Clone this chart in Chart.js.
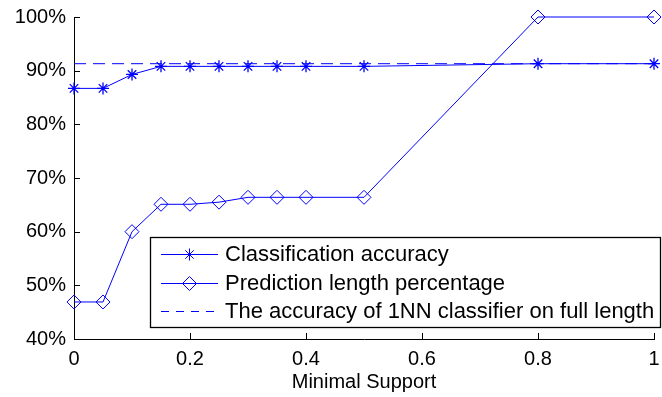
<!DOCTYPE html>
<html>
<head>
<meta charset="utf-8">
<script src="https://cdn.jsdelivr.net/npm/chart.js@4.4.1/dist/chart.umd.min.js"></script>
<style>
  html, body { margin: 0; padding: 0; background: #fff; }
  #wrap { width: 662px; height: 397px; }
</style>
</head>
<body>
<div id="wrap"><canvas id="supportChart" width="662" height="397"></canvas></div>
<script>
// minimal support thresholds and the measured results (percent)
var support = [0, 0.05, 0.1, 0.15, 0.2, 0.25, 0.3, 0.35, 0.4, 0.5, 0.8, 1];
var accuracy = [86.7, 86.7, 89.3, 90.8, 90.8, 90.8, 90.8, 90.8, 90.8, 90.8, 91.3, 91.3];
var predLength = [46.9, 46.9, 60.0, 65.1, 65.1, 65.5, 66.4, 66.4, 66.4, 66.4, 100, 100];
var fullLengthAcc = 91.3;
var fullLengthX = [0, 1];

var xTicks = [0, 0.2, 0.4, 0.6, 0.8, 1];
var yTicks = [40, 50, 60, 70, 80, 90, 100];

var legendLabels = [
  'Classification accuracy',
  'Prediction length percentage',
  'The accuracy of 1NN classifier on full length'
];

var blue = 'rgb(0,0,255)';
var fontFamily = '"Liberation Sans", Arial, Helvetica, sans-serif';

function pairs(xs, ys) {
  return xs.map(function(x, i) { return { x: x, y: ys[i] }; });
}

// inward tick marks, like the original plotting tool draws them
var inwardTicks = {
  id: 'inwardTicks',
  afterDraw: function(chart) {
    var ctx = chart.ctx, area = chart.chartArea;
    var xs = chart.scales.x, ys = chart.scales.y;
    ctx.save();
    ctx.strokeStyle = '#000';
    ctx.lineWidth = 1;
    ctx.beginPath();
    xTicks.forEach(function(v) {
      var px = Math.round(xs.getPixelForValue(v)) + 0.5;
      ctx.moveTo(px, area.bottom);
      ctx.lineTo(px, area.bottom - 6);
    });
    yTicks.forEach(function(v) {
      var py = Math.round(ys.getPixelForValue(v)) + 0.5;
      ctx.moveTo(area.left, py);
      ctx.lineTo(area.left + 6, py);
    });
    ctx.stroke();
    ctx.restore();
  }
};

// boxed legend sitting inside the plot area
var boxLegend = {
  id: 'boxLegend',
  afterDraw: function(chart) {
    var ctx = chart.ctx;
    var left = 150.5, top = 237.5, right = 660.5, bottom = 327.5;
    var rows = [254, 283, 311];
    ctx.save();
    ctx.fillStyle = '#fff';
    ctx.fillRect(left, top, right - left, bottom - top);
    ctx.strokeStyle = '#000';
    ctx.lineWidth = 1.3;
    ctx.strokeRect(left, top, right - left, bottom - top);

    chart.data.datasets.forEach(function(ds, i) {
      var y = rows[i] + 0.5;
      ctx.strokeStyle = ds.borderColor;
      ctx.lineWidth = 1;
      ctx.setLineDash(ds.legendDash || []);
      ctx.beginPath();
      ctx.moveTo(161, y);
      ctx.lineTo(218, y);
      ctx.stroke();
      ctx.setLineDash([]);
      if (ds.pointRadius > 0) {
        ctx.strokeStyle = ds.pointBorderColor;
        ctx.fillStyle = ds.pointBackgroundColor;
        Chart.helpers.drawPoint(ctx, {
          pointStyle: ds.pointStyle,
          radius: ds.pointRadius,
          borderWidth: ds.pointBorderWidth
        }, 189.5, y);
      }
      ctx.fillStyle = '#000';
      ctx.font = '22px ' + fontFamily;
      ctx.textBaseline = 'middle';
      ctx.textAlign = 'left';
      ctx.fillText(legendLabels[i], 225, rows[i] + 1);
    });
    ctx.restore();
  }
};

var ctx = document.getElementById('supportChart').getContext('2d');
var supportChart = new Chart(ctx, {
  type: 'line',
  data: {
    datasets: [{
      label: legendLabels[0],
      data: pairs(support, accuracy),
      borderColor: blue,
      borderWidth: 1,
      pointStyle: 'star',
      pointRadius: 6,
      pointBorderColor: blue,
      pointBorderWidth: 1.3,
      pointBackgroundColor: blue,
      tension: 0,
      clip: false
    }, {
      label: legendLabels[1],
      data: pairs(support, predLength),
      borderColor: blue,
      borderWidth: 1,
      pointStyle: 'rectRot',
      pointRadius: 7,
      pointBorderColor: blue,
      pointBorderWidth: 1,
      pointBackgroundColor: 'rgba(0,0,0,0)',
      tension: 0,
      clip: false
    }, {
      label: legendLabels[2],
      data: pairs(fullLengthX, [fullLengthAcc, fullLengthAcc]),
      borderColor: blue,
      borderWidth: 1,
      borderDash: [12, 7],
      legendDash: [8, 7],
      pointRadius: 0,
      tension: 0
    }]
  },
  options: {
    responsive: false,
    animation: false,
    layout: { padding: { top: 17, right: 1, left: 0, bottom: 0 } },
    plugins: {
      legend: { display: false },
      tooltip: { enabled: false }
    },
    scales: {
      x: {
        type: 'linear',
        min: 0,
        max: 1,
        afterBuildTicks: function(scale) {
          scale.ticks = xTicks.map(function(v) { return { value: v }; });
        },
        afterFit: function(scale) {
          scale.height = 58;
          scale.paddingLeft = 0;
          scale.paddingRight = 0;
        },
        grid: { display: true, drawOnChartArea: false, drawTicks: false },
        border: { display: true, color: '#000', width: 1 },
        ticks: {
          color: '#000',
          padding: 8,
          maxRotation: 0,
          autoSkip: false,
          font: { family: fontFamily, size: 20 },
          callback: function(v) { return String(v); }
        },
        title: {
          display: true,
          text: 'Minimal Support',
          color: '#000',
          font: { family: fontFamily, size: 20 },
          padding: { top: 0, bottom: 3 }
        }
      },
      y: {
        type: 'linear',
        min: 40,
        max: 100,
        afterBuildTicks: function(scale) {
          scale.ticks = yTicks.map(function(v) { return { value: v }; });
        },
        afterFit: function(scale) {
          scale.width = 74;
          scale.paddingTop = 0;
          scale.paddingBottom = 0;
        },
        grid: { display: true, drawOnChartArea: false, drawTicks: false },
        border: { display: true, color: '#000', width: 1 },
        ticks: {
          color: '#000',
          padding: 8,
          font: { family: fontFamily, size: 20 },
          callback: function(v) { return v + '%'; }
        }
      }
    }
  },
  plugins: [inwardTicks, boxLegend]
});
</script>
</body>
</html>
